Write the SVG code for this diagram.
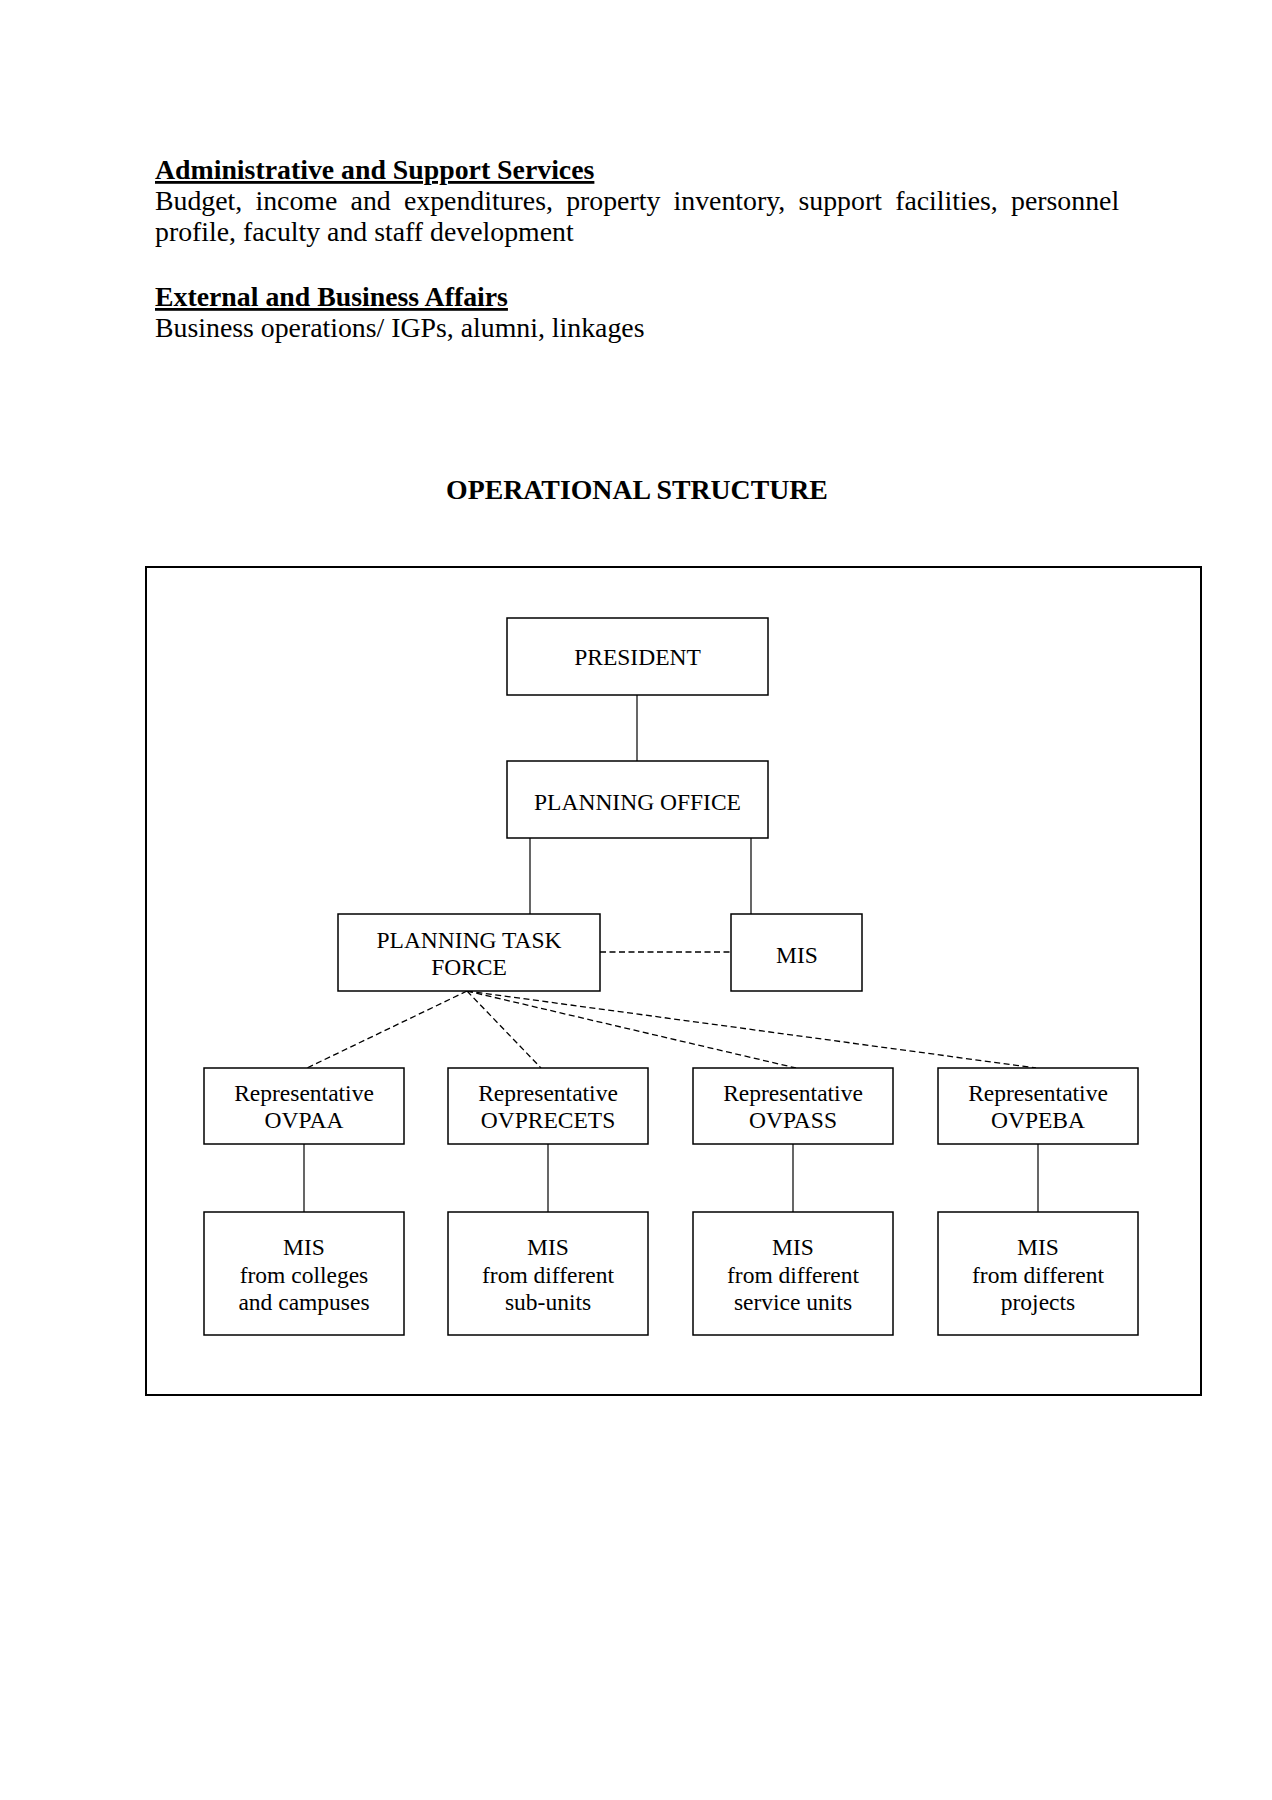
<svg xmlns="http://www.w3.org/2000/svg" width="1272" height="1800" viewBox="0 0 1272 1800">
<style>
text{font-family:"Liberation Serif","Times New Roman",serif;fill:#000}
.hd{font-size:27.8px;font-weight:bold;text-decoration:underline}
.bd{font-size:27.8px}
.tt{font-size:27.8px;font-weight:bold}
.nt{font-size:23.5px;text-anchor:middle}
.box{fill:#fff;stroke:#000;stroke-width:1.5}
.ln{stroke:#000;stroke-width:1.2;fill:none}
.ds{stroke:#000;stroke-width:1.3;fill:none;stroke-dasharray:6 3.5}
</style>
<rect width="1272" height="1800" fill="#fff"/>
<g id="header">
<text class="hd" x="155" y="179">Administrative and Support Services</text>
<text class="bd" x="155" y="210" word-spacing="6.3">Budget, income and expenditures, property inventory, support facilities, personnel</text>
<text class="bd" x="155" y="241">profile, faculty and staff development</text>
<text class="hd" x="155" y="306">External and Business Affairs</text>
<text class="bd" x="155" y="337">Business operations/ IGPs, alumni, linkages</text>
<text class="tt" x="637" y="499" text-anchor="middle">OPERATIONAL STRUCTURE</text>
</g>
<rect id="frame" x="146" y="567" width="1055" height="828" fill="none" stroke="#000" stroke-width="2"/>
<g id="connectors">
<line class="ln" x1="637" y1="695" x2="637" y2="761"/>
<line class="ln" x1="530" y1="838" x2="530" y2="914"/>
<line class="ln" x1="751" y1="838" x2="751" y2="914"/>
<line class="ds" x1="600" y1="952" x2="731" y2="952"/>
<line class="ds" x1="467" y1="991" x2="307" y2="1068"/>
<line class="ds" x1="467" y1="991" x2="541" y2="1068"/>
<line class="ds" x1="467" y1="991" x2="796" y2="1068"/>
<line class="ds" x1="467" y1="991" x2="1036" y2="1068"/>
<line class="ln" x1="304" y1="1144" x2="304" y2="1212"/>
<line class="ln" x1="548" y1="1144" x2="548" y2="1212"/>
<line class="ln" x1="793" y1="1144" x2="793" y2="1212"/>
<line class="ln" x1="1038" y1="1144" x2="1038" y2="1212"/>
</g>
<g id="president"><rect class="box" x="507" y="618" width="261" height="77"/><text class="nt" x="637.5" y="665">PRESIDENT</text></g>
<g id="planning-office"><rect class="box" x="507" y="761" width="261" height="77"/><text class="nt" x="637.5" y="810">PLANNING OFFICE</text></g>
<g id="planning-task-force"><rect class="box" x="338" y="914" width="262" height="77"/><text class="nt" x="469" y="948">PLANNING TASK</text><text class="nt" x="469" y="975">FORCE</text></g>
<g id="mis"><rect class="box" x="731" y="914" width="131" height="77"/><text class="nt" x="797" y="963">MIS</text></g>
<g id="rep-ovpaa"><rect class="box" x="204" y="1068" width="200" height="76"/><text class="nt" x="304" y="1101">Representative</text><text class="nt" x="304" y="1128">OVPAA</text></g>
<g id="rep-ovprecets"><rect class="box" x="448" y="1068" width="200" height="76"/><text class="nt" x="548" y="1101">Representative</text><text class="nt" x="548" y="1128">OVPRECETS</text></g>
<g id="rep-ovpass"><rect class="box" x="693" y="1068" width="200" height="76"/><text class="nt" x="793" y="1101">Representative</text><text class="nt" x="793" y="1128">OVPASS</text></g>
<g id="rep-ovpeba"><rect class="box" x="938" y="1068" width="200" height="76"/><text class="nt" x="1038" y="1101">Representative</text><text class="nt" x="1038" y="1128">OVPEBA</text></g>
<g id="mis-colleges"><rect class="box" x="204" y="1212" width="200" height="123"/><text class="nt" x="304" y="1255">MIS</text><text class="nt" x="304" y="1283">from colleges</text><text class="nt" x="304" y="1310">and campuses</text></g>
<g id="mis-subunits"><rect class="box" x="448" y="1212" width="200" height="123"/><text class="nt" x="548" y="1255">MIS</text><text class="nt" x="548" y="1283">from different</text><text class="nt" x="548" y="1310">sub-units</text></g>
<g id="mis-service"><rect class="box" x="693" y="1212" width="200" height="123"/><text class="nt" x="793" y="1255">MIS</text><text class="nt" x="793" y="1283">from different</text><text class="nt" x="793" y="1310">service units</text></g>
<g id="mis-projects"><rect class="box" x="938" y="1212" width="200" height="123"/><text class="nt" x="1038" y="1255">MIS</text><text class="nt" x="1038" y="1283">from different</text><text class="nt" x="1038" y="1310">projects</text></g>
</svg>
